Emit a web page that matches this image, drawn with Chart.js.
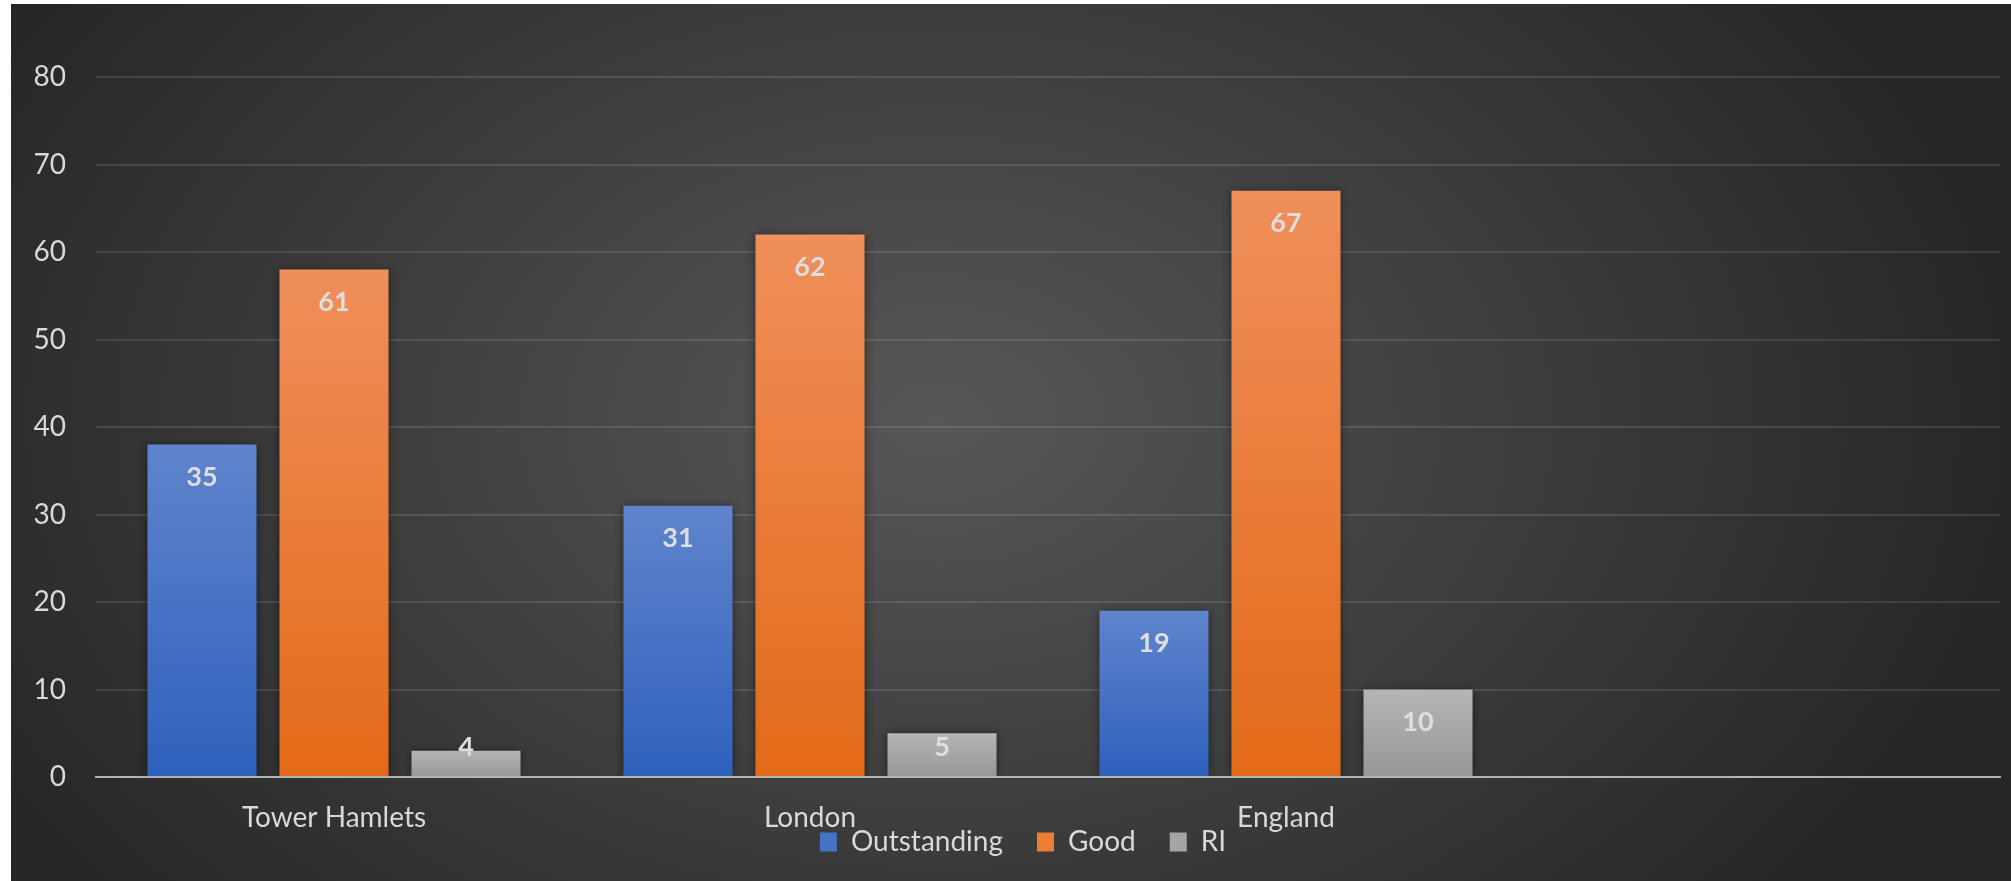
<!DOCTYPE html>
<html>
<head>
<meta charset="utf-8">
<title>Inspection outcomes</title>
<script src="https://cdn.jsdelivr.net/npm/chart.js@4.4.1/dist/chart.umd.min.js"></script>
<style>
  html, body { margin: 0; padding: 0; background: #fff; }
  canvas { display: block; }
</style>
</head>
<body>
<canvas id="ratings" width="2011" height="881"></canvas>
<script>
(function () {
  "use strict";

  /*----------------------------------------*/
  /*  data
  /*----------------------------------------*/
  var categories = ["Tower Hamlets", "London", "England", ""];
  var seriesNames = ["Outstanding", "Good", "RI"];

  // bar heights as drawn
  var outstanding = [38, 31, 19, null];
  var good = [58, 62, 67, null];
  var ri = [3, 5, 10, null];

  // numbers printed on the bars
  var outstandingLabels = [35, 31, 19, null];
  var goodLabels = [61, 62, 67, null];
  var riLabels = [4, 5, 10, null];

  var yMin = 0;
  var yMax = 80;
  var yStep = 10;

  /*----------------------------------------*/
  /*  helpers
  /*----------------------------------------*/
  var FONT = "Lato, 'Open Sans', sans-serif";
  var TEXT = "#d9d9d9";
  var LEGEND_PAD = 34;

  // vertical gradient per bar, from its top down to the base
  function barFill(top, bottom) {
    return function (c) {
      var chart = c.chart;
      if (!chart.chartArea || c.raw == null || !chart.scales.y) return bottom;
      var y = chart.scales.y;
      var g = chart.ctx.createLinearGradient(0, y.getPixelForValue(c.raw), 0, y.getPixelForValue(0));
      g.addColorStop(0, top);
      g.addColorStop(1, bottom);
      return g;
    };
  }

  var legendColors = ["#4472c4", "#ed7d31", "#a5a5a5"];

  var background = {
    id: "background",
    beforeDraw: function (chart) {
      var ctx = chart.ctx;
      ctx.save();
      ctx.fillStyle = "#ffffff";
      ctx.fillRect(0, 0, chart.width, chart.height);
      ctx.beginPath();
      ctx.rect(11, 4, chart.width - 11, chart.height - 4);
      ctx.clip();
      ctx.translate(936, 420);
      ctx.scale(1, 0.68);
      var g = ctx.createRadialGradient(0, 0, 0, 0, 0, 1100);
      g.addColorStop(0, "#575757");
      g.addColorStop(1, "#262626");
      ctx.fillStyle = g;
      ctx.fillRect(-1500, -1500, 3000, 3000);
      ctx.restore();
    }
  };

  // legend sits partly over the category labels, centred a little right
  var legendPlace = {
    id: "legendPlace",
    afterLayout: function (chart) {
      var lg = chart.legend;
      if (!lg) return;
      var dy = 842 - (lg.top + LEGEND_PAD + 14);
      var dx = 1023 - (lg.left + lg.right) / 2;
      lg.top += dy;
      lg.bottom = chart.height;
      lg.height = lg.bottom - lg.top;
      lg.left += dx; lg.right += dx;
    }
  };

  var barShadow = {
    id: "barShadow",
    beforeDatasetsDraw: function (chart) {
      var ctx = chart.ctx;
      ctx.save();
      ctx.shadowColor = "rgba(0,0,0,0.45)";
      ctx.shadowBlur = 9;
      ctx.shadowOffsetX = 0;
      ctx.shadowOffsetY = 0;
    },
    afterDatasetsDraw: function (chart) {
      chart.ctx.restore();
    }
  };

  var barLabels = {
    id: "barLabels",
    afterDatasetsDraw: function (chart) {
      var ctx = chart.ctx;
      ctx.save();
      ctx.font = "bold 27px " + FONT;
      ctx.fillStyle = "#dedede";
      ctx.textAlign = "center";
      ctx.textBaseline = "middle";
      chart.data.datasets.forEach(function (ds, i) {
        var meta = chart.getDatasetMeta(i);
        meta.data.forEach(function (bar, j) {
          var txt = ds.valueLabels[j];
          if (txt == null) return;
          var y = Math.min(bar.y + 33, bar.base - 29);
          ctx.fillText(String(txt), bar.x, y);
        });
      });
      ctx.restore();
    }
  };

  /*----------------------------------------*/
  /*  chart
  /*----------------------------------------*/
  var ctx = document.getElementById("ratings");
  var ratingsChart = new Chart(ctx, {
    type: "bar",
    data: {
      labels: categories,
      datasets: [{
        label: seriesNames[0],
        data: outstanding,
        valueLabels: outstandingLabels,
        backgroundColor: barFill("#6084cd", "#2e61bd")
      }, {
        label: seriesNames[1],
        data: good,
        valueLabels: goodLabels,
        backgroundColor: barFill("#f08f5b", "#e36a18")
      }, {
        label: seriesNames[2],
        data: ri,
        valueLabels: riLabels,
        backgroundColor: barFill("#b5b5b5", "#979797")
      }]
    },
    plugins: [background, legendPlace, barShadow, barLabels],
    options: {
      responsive: false,
      animation: false,
      categoryPercentage: 0.832,
      barPercentage: 0.826,
      layout: {
        padding: { top: 77, left: 0, right: 11, bottom: 0 }
      },
      plugins: {
        tooltip: { enabled: false },
        legend: {
          position: "bottom",
          maxHeight: 44,
          labels: {
            font: { family: FONT, size: 28 },
            color: TEXT,
            boxWidth: 17,
            boxHeight: 19,
            padding: LEGEND_PAD,
            generateLabels: function (chart) {
              return chart.data.datasets.map(function (ds, i) {
                return {
                  text: ds.label,
                  fillStyle: legendColors[i],
                  strokeStyle: legendColors[i],
                  lineWidth: 0,
                  fontColor: TEXT,
                  hidden: false,
                  datasetIndex: i
                };
              });
            }
          }
        }
      },
      scales: {
        x: {
          grid: { display: false, drawTicks: false },
          border: { display: true, color: "#b3b3b3", width: 2, z: 1 },
          ticks: {
            font: { family: FONT, size: 28 },
            color: TEXT,
            padding: 24,
            maxRotation: 0,
            autoSkip: false
          },
          afterFit: function (scale) { scale.height = 60; }
        },
        y: {
          min: yMin,
          max: yMax,
          grid: { color: "rgba(255,255,255,0.11)", lineWidth: 2, drawTicks: false },
          border: { display: false },
          ticks: {
            stepSize: yStep,
            font: { family: FONT, size: 28 },
            color: TEXT,
            padding: 30
          },
          afterFit: function (scale) { scale.width = 96; }
        }
      }
    }
  });
})();
</script>
</body>
</html>
